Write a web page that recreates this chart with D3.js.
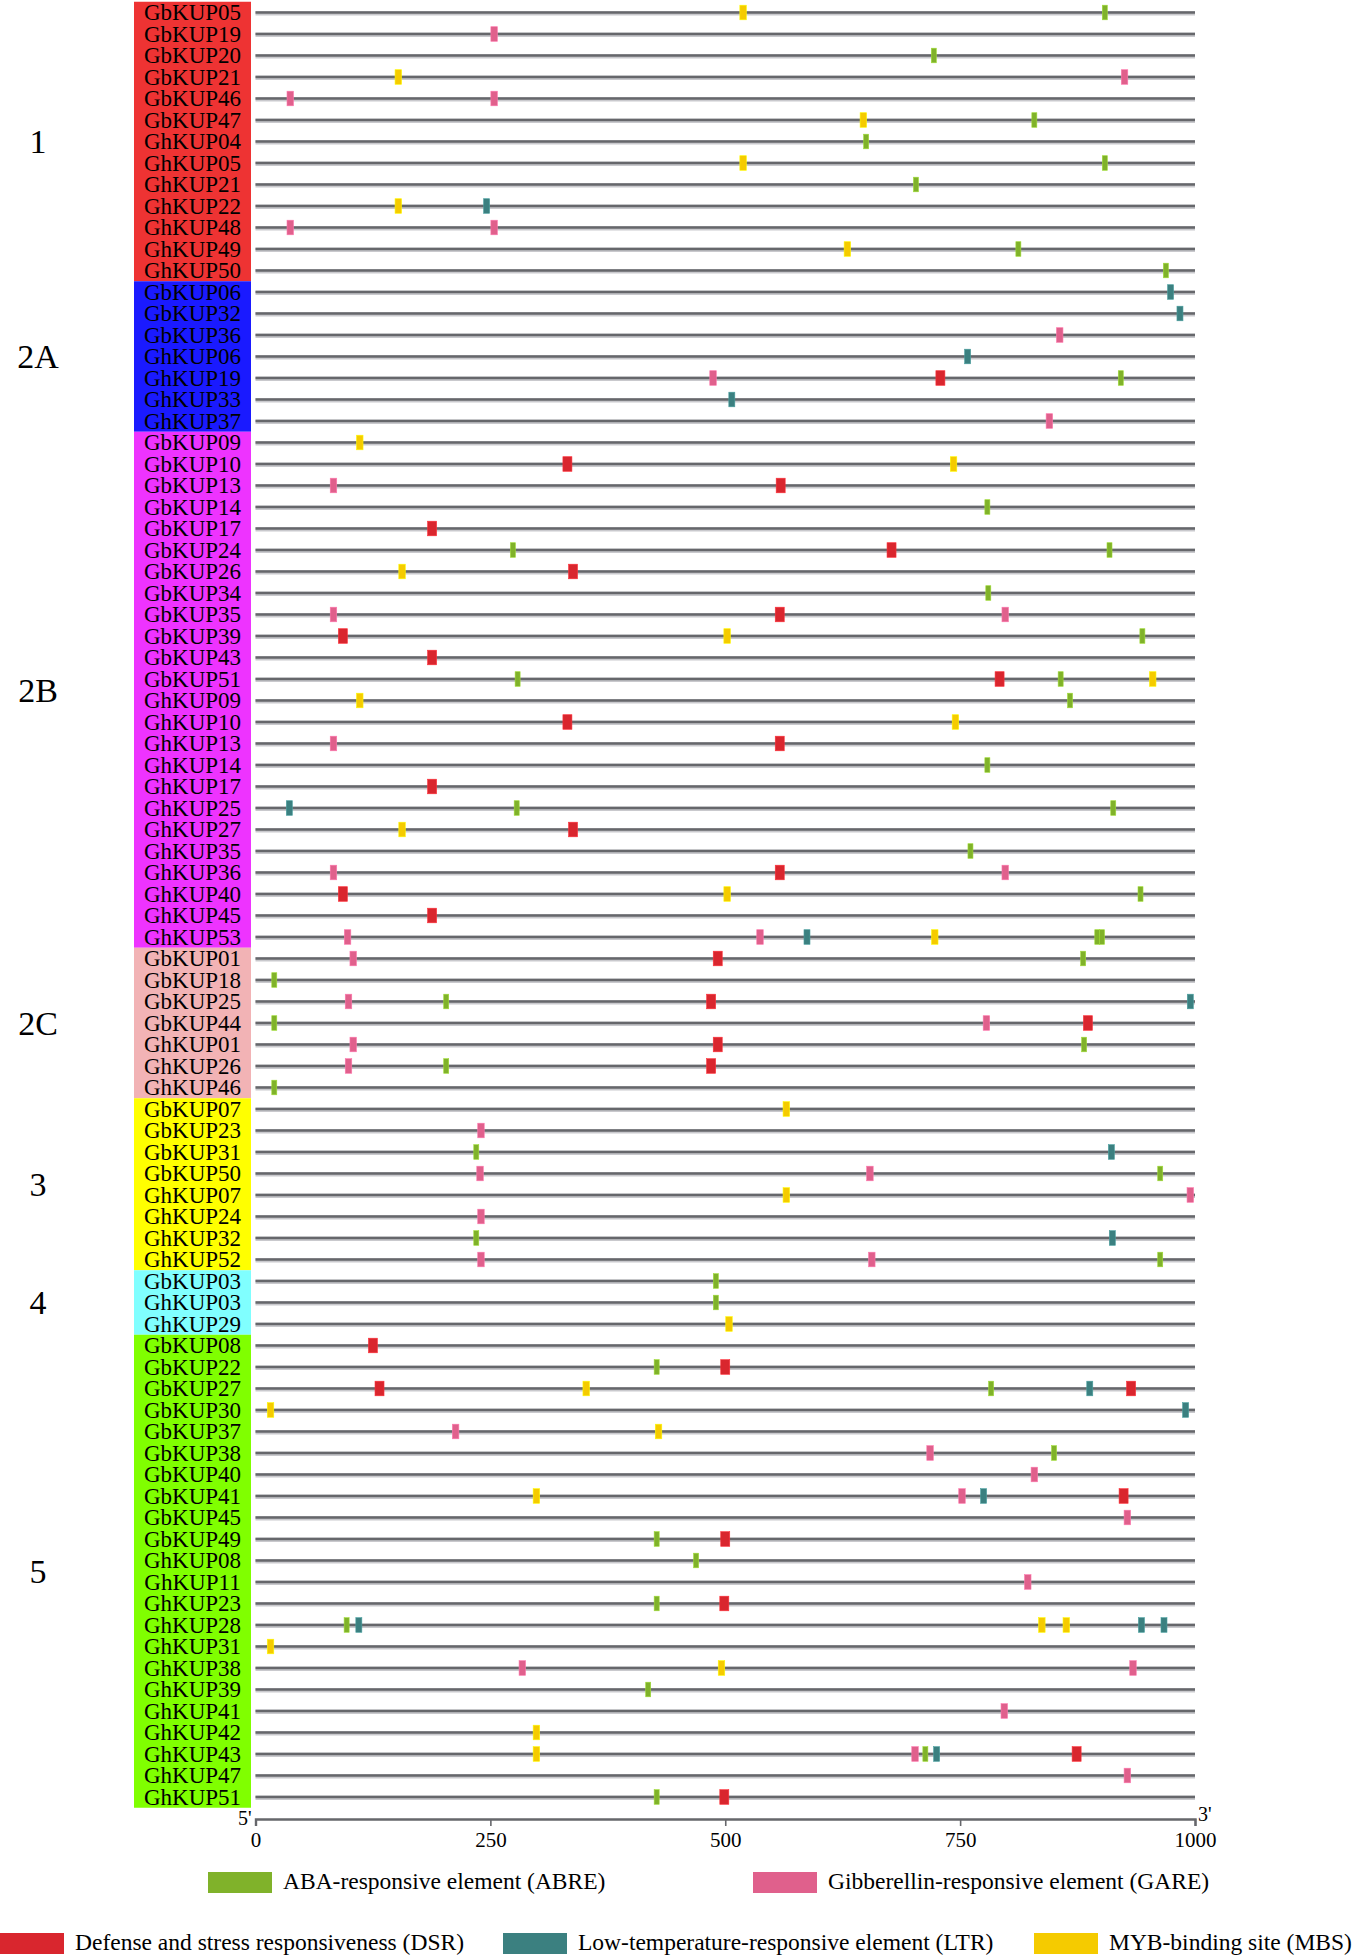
<!DOCTYPE html>
<html lang="en">
<head>
<meta charset="UTF-8">
<title>KUP promoter cis-elements</title>
<style>
  body { margin: 0; background: #fff; }
  svg { display: block; }
  text { font-family: "Times New Roman", "Liberation Serif", serif; fill: #000; }
</style>
</head>
<body>
<svg width="1358" height="1955"></svg>
<script src="https://cdn.jsdelivr.net/npm/d3@7/dist/d3.min.js"></script>
<script>
// subfamilies and how many genes each holds (in order)
const groups = ["1", "2A", "2B", "2C", "3", "4", "5"];
const groupSizes = [13, 7, 24, 7, 8, 3, 22];
const groupColors = ["#ee3333", "#1a1aff", "#ee33ff", "#f2b3b5", "#ffff00", "#80ffff", "#80ff00"];

const genes = [
  "GbKUP05","GbKUP19","GbKUP20","GbKUP21","GbKUP46","GbKUP47","GhKUP04","GhKUP05","GhKUP21","GhKUP22","GhKUP48","GhKUP49","GhKUP50",
  "GbKUP06","GbKUP32","GbKUP36","GhKUP06","GhKUP19","GhKUP33","GhKUP37",
  "GbKUP09","GbKUP10","GbKUP13","GbKUP14","GbKUP17","GbKUP24","GbKUP26","GbKUP34","GbKUP35","GbKUP39","GbKUP43","GbKUP51",
  "GhKUP09","GhKUP10","GhKUP13","GhKUP14","GhKUP17","GhKUP25","GhKUP27","GhKUP35","GhKUP36","GhKUP40","GhKUP45","GhKUP53",
  "GbKUP01","GbKUP18","GbKUP25","GbKUP44","GhKUP01","GhKUP26","GhKUP46",
  "GbKUP07","GbKUP23","GbKUP31","GbKUP50","GhKUP07","GhKUP24","GhKUP32","GhKUP52",
  "GbKUP03","GhKUP03","GhKUP29",
  "GbKUP08","GbKUP22","GbKUP27","GbKUP30","GbKUP37","GbKUP38","GbKUP40","GbKUP41","GbKUP45","GbKUP49",
  "GhKUP08","GhKUP11","GhKUP23","GhKUP28","GhKUP31","GhKUP38","GhKUP39","GhKUP41","GhKUP42","GhKUP43","GhKUP47","GhKUP51"
];

const elementTypes = ["ABRE", "GARE", "DSR", "LTR", "MBS"];
const elementNames = [
  "ABA-responsive element (ABRE)",
  "Gibberellin-responsive element (GARE)",
  "Defense and stress responsiveness (DSR)",
  "Low-temperature-responsive element (LTR)",
  "MYB-binding site (MBS)"
];
const elementColors = ["#80b22a", "#e0608c", "#d9262e", "#3b8080", "#f5cb00"];

const ticks = [0, 250, 500, 750, 1000];

// [gene, element, position from 5' end]
const sites = [
  ["GbKUP05","MBS",519],["GbKUP05","ABRE",904],
  ["GbKUP19","GARE",254],
  ["GbKUP20","ABRE",722],
  ["GbKUP21","MBS",152],["GbKUP21","GARE",925],
  ["GbKUP46","GARE",37],["GbKUP46","GARE",254],
  ["GbKUP47","MBS",647],["GbKUP47","ABRE",829],
  ["GhKUP04","ABRE",650],
  ["GhKUP05","MBS",519],["GhKUP05","ABRE",904],
  ["GhKUP21","ABRE",703],
  ["GhKUP22","MBS",152],["GhKUP22","LTR",246],
  ["GhKUP48","GARE",37],["GhKUP48","GARE",254],
  ["GhKUP49","MBS",630],["GhKUP49","ABRE",812],
  ["GhKUP50","ABRE",969],

  ["GbKUP06","LTR",974],
  ["GbKUP32","LTR",984],
  ["GbKUP36","GARE",856],
  ["GhKUP06","LTR",758],
  ["GhKUP19","GARE",487],["GhKUP19","DSR",729],["GhKUP19","ABRE",921],
  ["GhKUP33","LTR",507],
  ["GhKUP37","GARE",845],

  ["GbKUP09","MBS",111],
  ["GbKUP10","DSR",332],["GbKUP10","MBS",743],
  ["GbKUP13","GARE",83],["GbKUP13","DSR",559],
  ["GbKUP14","ABRE",779],
  ["GbKUP17","DSR",188],
  ["GbKUP24","ABRE",274],["GbKUP24","DSR",677],["GbKUP24","ABRE",909],
  ["GbKUP26","MBS",156],["GbKUP26","DSR",338],
  ["GbKUP34","ABRE",780],
  ["GbKUP35","GARE",83],["GbKUP35","DSR",558],["GbKUP35","GARE",798],
  ["GbKUP39","DSR",93],["GbKUP39","MBS",502],["GbKUP39","ABRE",944],
  ["GbKUP43","DSR",188],
  ["GbKUP51","ABRE",279],["GbKUP51","DSR",792],["GbKUP51","ABRE",857],["GbKUP51","MBS",955],
  ["GhKUP09","MBS",111],["GhKUP09","ABRE",867],
  ["GhKUP10","DSR",332],["GhKUP10","MBS",745],
  ["GhKUP13","GARE",83],["GhKUP13","DSR",558],
  ["GhKUP14","ABRE",779],
  ["GhKUP17","DSR",188],
  ["GhKUP25","LTR",36],["GhKUP25","ABRE",278],["GhKUP25","ABRE",913],
  ["GhKUP27","MBS",156],["GhKUP27","DSR",338],
  ["GhKUP35","ABRE",761],
  ["GhKUP36","GARE",83],["GhKUP36","DSR",558],["GhKUP36","GARE",798],
  ["GhKUP40","DSR",93],["GhKUP40","MBS",502],["GhKUP40","ABRE",942],
  ["GhKUP45","DSR",188],
  ["GhKUP53","GARE",98],["GhKUP53","GARE",537],["GhKUP53","LTR",587],["GhKUP53","MBS",723],["GhKUP53","ABRE",896],["GhKUP53","ABRE",901],

  ["GbKUP01","GARE",104],["GbKUP01","DSR",492],["GbKUP01","ABRE",881],
  ["GbKUP18","ABRE",20],
  ["GbKUP25","GARE",99],["GbKUP25","ABRE",203],["GbKUP25","DSR",485],["GbKUP25","LTR",995],
  ["GbKUP44","ABRE",20],["GbKUP44","GARE",778],["GbKUP44","DSR",886],
  ["GhKUP01","GARE",104],["GhKUP01","DSR",492],["GhKUP01","ABRE",882],
  ["GhKUP26","GARE",99],["GhKUP26","ABRE",203],["GhKUP26","DSR",485],
  ["GhKUP46","ABRE",20],

  ["GbKUP07","MBS",565],
  ["GbKUP23","GARE",240],
  ["GbKUP31","ABRE",235],["GbKUP31","LTR",911],
  ["GbKUP50","GARE",239],["GbKUP50","GARE",654],["GbKUP50","ABRE",963],
  ["GhKUP07","MBS",565],["GhKUP07","GARE",995],
  ["GhKUP24","GARE",240],
  ["GhKUP32","ABRE",235],["GhKUP32","LTR",912],
  ["GhKUP52","GARE",240],["GhKUP52","GARE",656],["GhKUP52","ABRE",963],

  ["GbKUP03","ABRE",490],
  ["GhKUP03","ABRE",490],
  ["GhKUP29","MBS",504],

  ["GbKUP08","DSR",125],
  ["GbKUP22","ABRE",427],["GbKUP22","DSR",500],
  ["GbKUP27","DSR",132],["GbKUP27","MBS",352],["GbKUP27","ABRE",783],["GbKUP27","LTR",888],["GbKUP27","DSR",932],
  ["GbKUP30","MBS",16],["GbKUP30","LTR",990],
  ["GbKUP37","GARE",213],["GbKUP37","MBS",429],
  ["GbKUP38","GARE",718],["GbKUP38","ABRE",850],
  ["GbKUP40","GARE",829],
  ["GbKUP41","MBS",299],["GbKUP41","GARE",752],["GbKUP41","LTR",775],["GbKUP41","DSR",924],
  ["GbKUP45","GARE",928],
  ["GbKUP49","ABRE",427],["GbKUP49","DSR",500],
  ["GhKUP08","ABRE",469],
  ["GhKUP11","GARE",822],
  ["GhKUP23","ABRE",427],["GhKUP23","DSR",499],
  ["GhKUP28","ABRE",97],["GhKUP28","LTR",110],["GhKUP28","MBS",837],["GhKUP28","MBS",863],["GhKUP28","LTR",943],["GhKUP28","LTR",967],
  ["GhKUP31","MBS",16],
  ["GhKUP38","GARE",284],["GhKUP38","MBS",496],["GhKUP38","GARE",934],
  ["GhKUP39","ABRE",418],
  ["GhKUP41","GARE",797],
  ["GhKUP42","MBS",299],
  ["GhKUP43","MBS",299],["GhKUP43","GARE",702],["GhKUP43","ABRE",713],["GhKUP43","LTR",725],["GhKUP43","DSR",874],
  ["GhKUP47","GARE",928],
  ["GhKUP51","ABRE",427],["GhKUP51","DSR",499]
];

const svg = d3.select("svg");
const serif = "'Times New Roman', 'Liberation Serif', serif";

const x = d3.scaleLinear().domain([0, 1000]).range([255.5, 1195]);
const y = d3.scaleBand().domain(genes).range([1.75, 1807.75]);
const color = d3.scaleOrdinal().domain(elementTypes).range(elementColors);
const markWidth = {ABRE: 5, GARE: 6.5, DSR: 9, LTR: 6, MBS: 6.5};
const rowMid = g => y(g) + y.bandwidth() / 2;

// group blocks behind the gene names
let start = 0;
const blocks = groups.map((g, i) => {
  const first = genes[start], last = genes[start + groupSizes[i] - 1];
  start += groupSizes[i];
  return {name: g, color: groupColors[i], y0: y(first), y1: y(last) + y.bandwidth()};
});

svg.append("g").selectAll("rect")
  .data(blocks)
  .join("rect")
  .attr("x", 134)
  .attr("width", 117)
  .attr("y", d => d.y0)
  .attr("height", d => d.y1 - d.y0)
  .attr("fill", d => d.color);

svg.append("g").selectAll("text")
  .data(blocks)
  .join("text")
  .attr("x", 38)
  .attr("y", d => (d.y0 + d.y1) / 2)
  .attr("dy", "0.35em")
  .attr("text-anchor", "middle")
  .style("font-size", "34px")
  .text(d => d.name);

svg.append("g").selectAll("text")
  .data(genes)
  .join("text")
  .attr("x", 192.5)
  .attr("y", d => rowMid(d))
  .attr("dy", "0.34em")
  .attr("text-anchor", "middle")
  .style("font-size", "23px")
  .text(d => d);

// promoter lines
const lines = svg.append("g");
lines.selectAll("line.halo")
  .data(genes)
  .join("line")
  .attr("class", "halo")
  .attr("x1", x(0)).attr("x2", x(1000))
  .attr("y1", d => rowMid(d) + 0.8).attr("y2", d => rowMid(d) + 0.8)
  .attr("stroke", "#c9c9cd")
  .attr("stroke-width", 4.5);
lines.selectAll("line.core")
  .data(genes)
  .join("line")
  .attr("class", "core")
  .attr("x1", x(0)).attr("x2", x(1000))
  .attr("y1", d => rowMid(d)).attr("y2", d => rowMid(d))
  .attr("stroke", "#66676b")
  .attr("stroke-width", 2.6);

// cis-element marks
svg.append("g").selectAll("rect")
  .data(sites)
  .join("rect")
  .attr("x", d => x(d[2]) - markWidth[d[1]] / 2)
  .attr("width", d => markWidth[d[1]])
  .attr("y", d => rowMid(d[0]) - 7.3)
  .attr("height", 14.6)
  .attr("fill", d => color(d[1]))
  .attr("stroke", d => d3.color(color(d[1])).brighter(0.6))
  .attr("stroke-width", 0.6);

// position axis
const axisY = 1819;
const axis = svg.append("g")
  .attr("transform", `translate(0,${axisY})`)
  .call(d3.axisBottom(x).tickValues(ticks).tickFormat(d3.format("d")).tickSize(7).tickPadding(6))
  .attr("font-family", serif)
  .attr("font-size", 21);
axis.select(".domain").attr("stroke", "#66676b").attr("stroke-width", 2.4);
axis.selectAll(".tick line").attr("stroke", "#66676b").attr("stroke-width", 1.6);
axis.selectAll(".tick text")
  .style("font-family", serif)
  .style("font-size", "21px")
  .attr("fill", "#000");

svg.append("text")
  .attr("x", x(0) - 4).attr("y", axisY + 6)
  .attr("text-anchor", "end")
  .style("font-size", "20px")
  .text("5'");
svg.append("text")
  .attr("x", x(1000) + 3).attr("y", axisY + 2)
  .style("font-size", "20px")
  .text("3'");

// legend
const legendPos = [
  {x: 208, y: 1872}, {x: 753, y: 1872},
  {x: 0, y: 1933}, {x: 503, y: 1933}, {x: 1034, y: 1933}
];
const legend = svg.append("g").selectAll("g")
  .data(elementTypes)
  .join("g")
  .attr("transform", (d, i) => `translate(${legendPos[i].x},${legendPos[i].y})`);
legend.append("rect")
  .attr("width", 64)
  .attr("height", 21)
  .attr("fill", d => color(d));
legend.append("text")
  .attr("x", 75)
  .attr("y", 17)
  .style("font-size", "23.5px")
  .text((d, i) => elementNames[i]);
</script>
</body>
</html>
